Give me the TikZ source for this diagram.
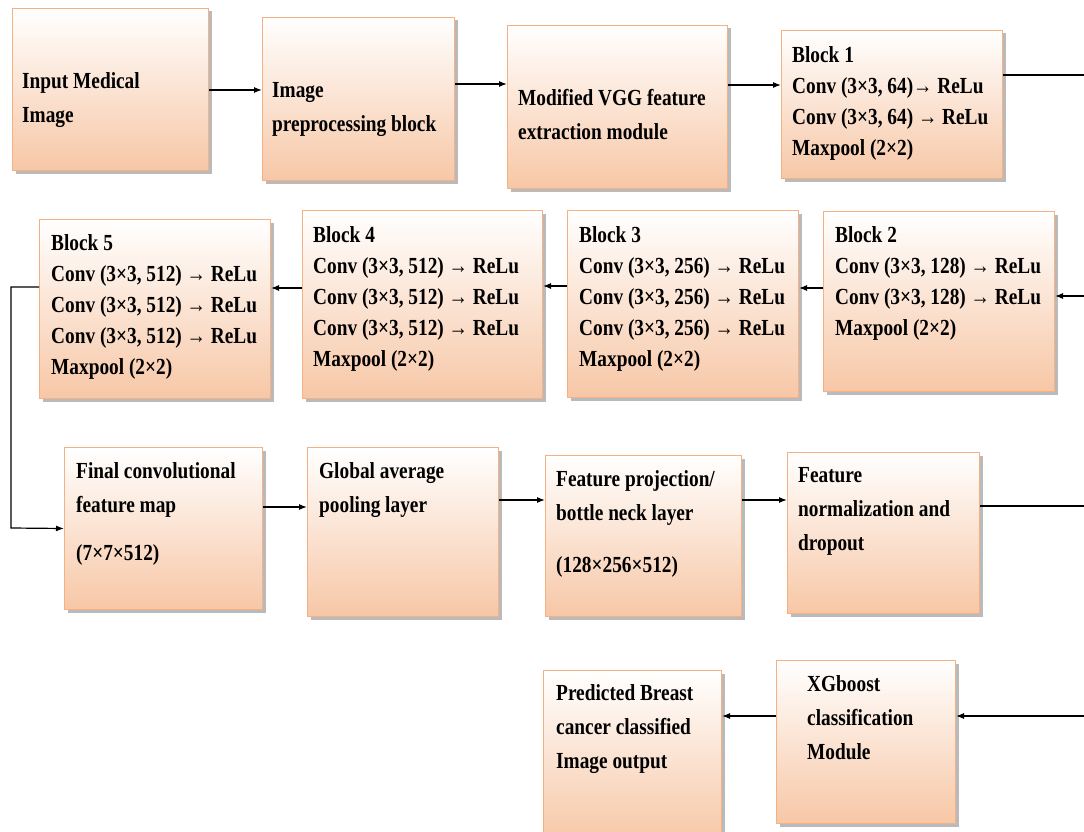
\documentclass[tikz,border=0pt]{standalone}
\usepackage{fontspec}
\setmainfont[FakeStretch=0.84]{Liberation Serif}
\usetikzlibrary{positioning,arrows.meta,shadows}
\definecolor{peach}{RGB}{247,199,166}
\definecolor{peachline}{RGB}{244,177,131}
\tikzset{
  box/.style={draw=peachline, line width=1pt, top color=white, bottom color=peach,
    anchor=north west, inner sep=0pt,
    drop shadow={shadow xshift=3pt, shadow yshift=-3pt, fill=black!45, opacity=.6}},
  txt/.style={anchor=north west, inner sep=0pt, align=left,
    font=\bfseries\fontsize{23}{31}\selectfont},
  txtw/.style={txt, font=\bfseries\fontsize{23}{34}\selectfont},
  arr/.style={-{Latex[length=8pt,width=6pt]}, line width=1.2pt},
  ln/.style={line width=1.2pt}
}

\begin{document}
\begin{tikzpicture}[x=1pt, y=-1pt]
  \useasboundingbox (0,0) rectangle (1084,832);
  \clip (0,0) rectangle (1084,832);
  % boxes
  \node [box, minimum width=196pt, minimum height=162pt] (input) at (12,8) {};
  \node [box, minimum width=192pt, minimum height=163pt] (prep) at (262,17) {};
  \node [box, minimum width=220pt, minimum height=163pt] (vgg) at (507,25) {};
  \node [box, minimum width=221pt, minimum height=148pt] (b1) at (781,30) {};
  \node [box, minimum width=231pt, minimum height=180pt] (b2) at (823,211) {};
  \node [box, minimum width=231pt, minimum height=187pt] (b3) at (567,210) {};
  \node [box, minimum width=240pt, minimum height=188pt] (b4) at (302,210) {};
  \node [box, minimum width=231pt, minimum height=179pt] (b5) at (39,219) {};
  \node [box, minimum width=198pt, minimum height=162pt] (fin) at (64,447) {};
  \node [box, minimum width=191pt, minimum height=169pt] (gap) at (307,447) {};
  \node [box, minimum width=196pt, minimum height=161pt] (proj) at (545,455) {};
  \node [box, minimum width=192pt, minimum height=161pt] (norm) at (787,452) {};
  \node [box, minimum width=178pt, minimum height=172pt] (pred) at (543,670) {};
  \node [box, minimum width=179pt, minimum height=163pt] (xgb) at (776,660) {};
  % texts
  \node [txtw] (inputT) at (22,72) {Input Medical\\Image};
  \node [txtw] (prepT) at (272,82) {Image\\preprocessing block};
  \node [txtw] (vggT) at (518,89) {Modified VGG feature\\extraction module};
  \node [txt] (b1T) at (792,46) {Block 1\\Conv (3×3, 64)→ ReLu\\Conv (3×3, 64) → ReLu\\Maxpool (2×2)};
  \node [txt] (b2T) at (835,226) {Block 2\\Conv (3×3, 128) → ReLu\\Conv (3×3, 128) → ReLu\\Maxpool (2×2)};
  \node [txt] (b3T) at (579,226) {Block 3\\Conv (3×3, 256) → ReLu\\Conv (3×3, 256) → ReLu\\Conv (3×3, 256) → ReLu\\Maxpool (2×2)};
  \node [txt] (b4T) at (313,226) {Block 4\\Conv (3×3, 512) → ReLu\\Conv (3×3, 512) → ReLu\\Conv (3×3, 512) → ReLu\\Maxpool (2×2)};
  \node [txt] (b5T) at (51,234) {Block 5\\Conv (3×3, 512) → ReLu\\Conv (3×3, 512) → ReLu\\Conv (3×3, 512) → ReLu\\Maxpool (2×2)};
  \node [txtw] (finT) at (76,462) {Final convolutional\\feature map\\[14pt](7×7×512)};
  \node [txtw] (gapT) at (319,462) {Global average\\pooling layer};
  \node [txtw] (projT) at (556,470) {Feature projection/\\bottle neck layer\\[18pt](128×256×512)};
  \node [txtw] (normT) at (798,467) {Feature\\normalization and\\dropout};
  \node [txtw] (predT) at (556,684) {Predicted Breast\\cancer classified\\Image output};
  \node [txtw] (xgbT) at (807,675) {XGboost\\classification\\Module};
  % free ends
  \coordinate (r1) at (1090,75);
  \coordinate (r2) at (1090,296);
  \coordinate (r3) at (1090,506);
  \coordinate (r4) at (1090,716);
  \coordinate (l1) at (11,287);
  \coordinate (l2) at (11,528);
  % connectors
  \draw [arr] (input.east |- 0,90) -- (prep.west |- 0,90);
  \draw [arr] (prep.east |- 0,84) -- (vgg.west |- 0,84);
  \draw [arr] (vgg.east |- 0,85) -- (b1.west |- 0,85);
  \draw [ln] (b1.east |- r1) -- (r1);
  \draw [arr] (r2) -- (b2.east |- r2);
  \draw [arr] (b2.west |- 0,288) -- (b3.east |- 0,288);
  \draw [arr] (b3.west |- 0,286) -- (b4.east |- 0,286);
  \draw [arr] (b4.west |- 0,288) -- (b5.east |- 0,288);
  \draw [arr] (b5.west |- l1) -- (l1) -- (l2) -- (fin.west);
  \draw [arr] (fin.east |- 0,507) -- (gap.west |- 0,507);
  \draw [arr] (gap.east |- 0,500) -- (proj.west |- 0,500);
  \draw [arr] (proj.east |- 0,500) -- (norm.west |- 0,500);
  \draw [ln] (norm.east |- r3) -- (r3);
  \draw [arr] (r4) -- (xgb.east |- r4);
  \draw [arr] (xgb.west |- r4) -- (pred.east |- r4);
\end{tikzpicture}
\end{document}
